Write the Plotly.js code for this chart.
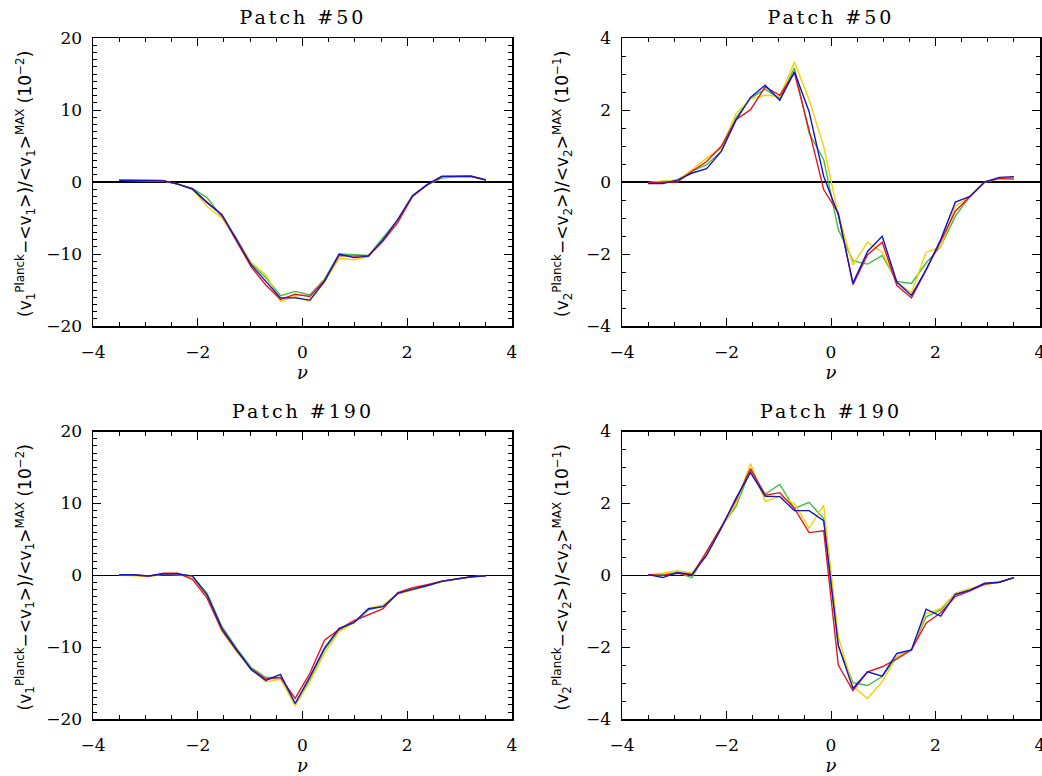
<!DOCTYPE html>
<html><head><meta charset="utf-8">
<script src="https://cdn.plot.ly/plotly-3.0.1.min.js"></script>
<style>
html,body{margin:0;padding:0;background:#fff;overflow:hidden;}
#plot{width:1042px;height:776px;}
#plot .annotation[data-index="0"] text,
#plot .annotation[data-index="1"] text,
#plot .annotation[data-index="2"] text,
#plot .annotation[data-index="3"] text{letter-spacing:3px;}
</style></head><body><div id="plot"></div><script>
// Threshold values nu
const nu = [-3.50, -3.22, -2.94, -2.66, -2.38, -2.10, -1.82, -1.54, -1.26, -0.98, -0.70, -0.42, -0.14,
            0.14, 0.42, 0.70, 0.98, 1.26, 1.54, 1.82, 2.10, 2.38, 2.66, 2.94, 3.22, 3.50];

// Patch #50, v1 (units 1e-2)
const p50_v1_green  = [0.25, 0.25, 0.2, 0.15, -0.3, -0.9, -2.2, -4.8, -7.8, -11.3, -13.3, -15.8, -15.2, -15.7, -13.5, -10.0, -10.1, -10.2, -7.7, -5.3, -1.9, -0.4, 0.55, 0.75, 0.8, 0.3];
const p50_v1_yellow = [0.25, 0.25, 0.2, 0.15, -0.3, -1.0, -3.4, -5.0, -7.9, -11.2, -12.9, -16.6, -15.9, -16.6, -13.9, -10.6, -10.8, -10.4, -8.0, -5.4, -2.0, -0.4, 0.7, 0.8, 0.8, 0.3];
const p50_v1_red    = [0.25, 0.3, 0.25, 0.2, -0.3, -1.0, -2.8, -4.6, -8.2, -11.8, -14.3, -16.3, -15.6, -15.9, -13.7, -10.2, -10.3, -10.2, -8.2, -5.6, -2.0, -0.4, 0.75, 0.8, 0.8, 0.3];
const p50_v1_blue   = [0.23, 0.23, 0.2, 0.15, -0.3, -0.97, -2.9, -4.5, -8.0, -11.5, -13.8, -16.1, -16.1, -16.4, -13.8, -10.0, -10.5, -10.3, -8.0, -5.2, -1.9, -0.37, 0.79, 0.79, 0.79, 0.28];

// Patch #50, v2 (units 1e-1)
const p50_v2_green  = [-0.02, 0.02, 0.05, 0.3, 0.48, 0.85, 1.78, 2.33, 2.58, 2.31, 3.17, 1.36, 0.62, -1.32, -2.19, -2.28, -2.04, -2.76, -2.82, -2.25, -1.79, -0.95, -0.4, 0.0, 0.1, 0.12];
const p50_v2_yellow = [-0.02, 0.03, 0.05, 0.34, 0.67, 0.94, 1.90, 2.31, 2.41, 2.38, 3.33, 2.29, 0.99, -0.91, -2.30, -1.67, -1.95, -2.78, -3.08, -1.95, -1.81, -0.68, -0.4, 0.0, 0.08, 0.1];
const p50_v2_red    = [-0.02, 0.0, 0.0, 0.3, 0.57, 0.99, 1.73, 2.01, 2.64, 2.41, 3.03, 1.45, -0.21, -0.86, -2.85, -2.02, -1.67, -2.87, -3.22, -2.44, -1.65, -0.81, -0.4, 0.0, 0.1, 0.08];
const p50_v2_blue   = [-0.04, -0.04, 0.05, 0.25, 0.37, 0.85, 1.71, 2.35, 2.69, 2.27, 3.06, 1.96, 0.16, -0.91, -2.81, -1.93, -1.51, -2.78, -3.15, -2.44, -1.6, -0.56, -0.4, 0.0, 0.13, 0.15];

// Patch #190, v1 (units 1e-2)
const p190_v1_green  = [0.05, 0.05, -0.1, 0.2, 0.2, -0.1, -2.5, -7.1, -10.1, -12.8, -14.2, -14.2, -17.9, -14.4, -10.3, -7.6, -6.6, -4.8, -4.3, -2.5, -1.9, -1.4, -0.8, -0.5, -0.2, -0.05];
const p190_v1_yellow = [0.05, 0.0, -0.15, 0.15, 0.1, -0.2, -2.9, -7.7, -10.6, -13.0, -14.8, -14.4, -18.1, -14.8, -10.8, -7.8, -6.6, -4.6, -4.1, -2.6, -2.0, -1.5, -0.9, -0.5, -0.2, -0.05];
const p190_v1_red    = [0.05, 0.05, -0.1, 0.3, 0.3, -0.56, -3.2, -7.6, -10.4, -13.0, -14.4, -14.2, -17.1, -13.6, -9.0, -7.5, -6.3, -5.5, -4.63, -2.4, -1.7, -1.3, -0.8, -0.5, -0.2, -0.05];
const p190_v1_blue   = [0.09, 0.09, -0.09, 0.19, 0.19, -0.09, -2.73, -7.36, -10.3, -13.1, -14.6, -13.75, -17.8, -14.1, -10.1, -7.36, -6.57, -4.63, -4.35, -2.5, -1.94, -1.44, -0.83, -0.51, -0.19, -0.05];

// Patch #190, v2 (units 1e-1)
const p190_v2_green  = [0.02, 0.02, 0.08, -0.06, 0.66, 1.35, 1.91, 2.93, 2.26, 2.53, 1.86, 2.03, 1.58, -1.98, -2.98, -3.06, -2.81, -2.26, -2.07, -1.15, -0.96, -0.5, -0.41, -0.24, -0.19, -0.06];
const p190_v2_yellow = [0.02, 0.06, 0.13, 0.07, 0.61, 1.31, 2.0, 3.11, 2.06, 2.2, 2.0, 1.31, 1.95, -1.70, -3.09, -3.42, -2.95, -2.26, -2.07, -1.06, -0.92, -0.5, -0.36, -0.27, -0.18, -0.06];
const p190_v2_red    = [0.02, 0.0, 0.06, 0.01, 0.66, 1.35, 2.09, 2.97, 2.23, 2.30, 1.86, 1.19, 1.24, -2.49, -3.20, -2.68, -2.54, -2.32, -2.07, -1.33, -1.04, -0.59, -0.43, -0.24, -0.19, -0.06];
const p190_v2_blue   = [0.02, -0.06, 0.08, 0.03, 0.56, 1.31, 2.14, 2.86, 2.20, 2.19, 1.80, 1.80, 1.52, -1.94, -3.14, -2.68, -2.80, -2.17, -2.07, -0.94, -1.13, -0.53, -0.41, -0.22, -0.19, -0.06];

const titles = ['Patch #50', 'Patch #50', 'Patch #190', 'Patch #190'];
const yTitleV1 = '(v<sub>1</sub><sup>Planck</sup>\u2212&lt;v<sub>1</sub>&gt;)/&lt;v<sub>1</sub>&gt;<sup>MAX</sup> (10<sup>\u22122</sup>)';
const yTitleV2 = '(v<sub>2</sub><sup>Planck</sup>\u2212&lt;v<sub>2</sub>&gt;)/&lt;v<sub>2</sub>&gt;<sup>MAX</sup> (10<sup>\u22121</sup>)';
const xTitle = '<i>\u03bd</i>';

const colors = {green: '#3cbf3c', yellow: '#f2d200', red: '#e8141c', blue: '#1414c8'};

const panels = [
  {ax: '', series: [p50_v1_green, p50_v1_yellow, p50_v1_red, p50_v1_blue]},
  {ax: '2', series: [p50_v2_green, p50_v2_yellow, p50_v2_red, p50_v2_blue]},
  {ax: '3', series: [p190_v1_green, p190_v1_yellow, p190_v1_red, p190_v1_blue]},
  {ax: '4', series: [p190_v2_green, p190_v2_yellow, p190_v2_red, p190_v2_blue]}
];
const cnames = ['green', 'yellow', 'red', 'blue'];

const traces = [];
panels.forEach(p => {
  p.series.forEach((s, i) => {
    traces.push({x: nu, y: s, type: 'scatter', mode: 'lines',
      xaxis: 'x' + p.ax, yaxis: 'y' + p.ax,
      line: {color: colors[cnames[i]], width: 1.4}, hoverinfo: 'skip', showlegend: false});
  });
});

const W = 1042, H = 776;
const tickFont = {family: 'DejaVu Serif', size: 17, color: '#000'};
function xax(l, r, anchor) {
  return {domain: [l / W, r / W], range: [-4, 4], anchor: anchor, showgrid: false, zeroline: false,
    showline: true, linecolor: '#000', linewidth: 1.5, mirror: 'ticks',
    ticks: 'inside', ticklen: 8, tickwidth: 1, tickcolor: '#000', tickvals: [-4, -2, 0, 2, 4],
    minor: {tickvals: [-3.5, -3, -2.5, -1.5, -1, -0.5, 0.5, 1, 1.5, 2.5, 3, 3.5], ticks: 'inside', ticklen: 4, tickcolor: '#000', showgrid: false},
    tickfont: tickFont, ticklabelstandoff: 10, ticklabeloverflow: 'allow',
    title: {text: xTitle, font: {family: 'DejaVu Serif', size: 18, color: '#000'}, standoff: 2}};
}
function yax(t, b, anchor, big) {
  const maj = big ? [-20, -10, 0, 10, 20] : [-4, -2, 0, 2, 4];
  const mn = big ? [-19,-18,-17,-16,-15,-14,-13,-12,-11,-9,-8,-7,-6,-5,-4,-3,-2,-1,1,2,3,4,5,6,7,8,9,11,12,13,14,15,16,17,18,19]
                 : [-3.5,-3,-2.5,-1.5,-1,-0.5,0.5,1,1.5,2.5,3,3.5];
  return {domain: [1 - b / H, 1 - t / H], range: big ? [-20, 20] : [-4, 4], anchor: anchor,
    showgrid: false, zeroline: true, zerolinecolor: '#000', zerolinewidth: 1.3,
    showline: true, linecolor: '#000', linewidth: 1.5, mirror: 'ticks',
    ticks: 'inside', ticklen: 8, tickwidth: 1, tickcolor: '#000', tickvals: maj,
    minor: {tickvals: mn, ticks: 'inside', ticklen: 4, tickcolor: '#000', showgrid: false},
    tickfont: tickFont, ticklabelstandoff: 6};
}

const L1 = 93, R1 = 512, L2 = 622, R2 = 1040;
const T1 = 38, B1 = 326, T2 = 431.5, B2 = 719.3;

const annotations = [];
const refs = [['x', 'y'], ['x2', 'y2'], ['x3', 'y3'], ['x4', 'y4']];
titles.forEach((t, i) => {
  annotations.push({text: t, xref: refs[i][0] + ' domain', yref: refs[i][1] + ' domain', x: 0.5, y: 1,
    xanchor: 'center', yanchor: 'bottom', yshift: 8, showarrow: false,
    font: {family: 'DejaVu Serif', size: 19, color: '#000'}});
});
const yTitleX = [25, 562, 25, 562];
const yTitleText = [yTitleV1, yTitleV2, yTitleV1, yTitleV2];
const yCenters = [(T1 + B1) / 2 + 2, (T1 + B1) / 2 + 2, (T2 + B2) / 2 + 2, (T2 + B2) / 2 + 2];
for (let i = 0; i < 4; i++) {
  annotations.push({text: yTitleText[i], xref: 'paper', yref: 'paper', x: yTitleX[i] / W, y: 1 - yCenters[i] / H,
    xanchor: 'center', yanchor: 'middle', textangle: -90, showarrow: false,
    font: {family: 'DejaVu Sans', size: 17, color: '#000'}});
}

const layout = {
  width: W, height: H, margin: {l: 0, r: 0, t: 0, b: 0},
  paper_bgcolor: '#fff', plot_bgcolor: '#fff', showlegend: false,
  xaxis: xax(L1, R1, 'y'), yaxis: yax(T1, B1, 'x', true),
  xaxis2: xax(L2, R2, 'y2'), yaxis2: yax(T1, B1, 'x2', false),
  xaxis3: xax(L1, R1, 'y3'), yaxis3: yax(T2, B2, 'x3', true),
  xaxis4: xax(L2, R2, 'y4'), yaxis4: yax(T2, B2, 'x4', false),
  annotations: annotations
};

Plotly.newPlot('plot', traces, layout, {staticPlot: true, displayModeBar: false});
</script></body></html>
